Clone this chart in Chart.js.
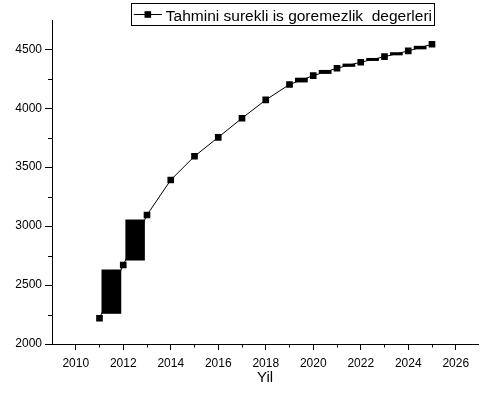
<!DOCTYPE html>
<html lang="tr">
<head>
  <meta charset="UTF-8" />
  <title>Tahmini surekli is goremezlik degerleri</title>
  <script src="https://cdn.jsdelivr.net/npm/chart.js@4.4.0/dist/chart.umd.min.js"></script>
  <style>
    html, body { margin: 0; padding: 0; background: #ffffff; }
    canvas { display: block; }
  </style>
</head>
<body>
  <canvas id="chart" width="483" height="400"></canvas>

  <script>
    // Data
    const years = [2011, 2012, 2013, 2014, 2015, 2016, 2017, 2018, 2019, 2020, 2021, 2022, 2023, 2024, 2025];
    const values = [2218, 2670, 3094, 3391, 3592, 3753, 3915, 4070, 4201, 4276, 4339, 4390, 4437, 4486, 4542];
    // segments (by start year) that the original plot drew as solid blocks
    const blockStartYears = [2011, 2012, 2019, 2020, 2021, 2022, 2023, 2024];
    const xTickValues = [2010, 2012, 2014, 2016, 2018, 2020, 2022, 2024, 2026];
    const yTickValues = [2000, 2500, 3000, 3500, 4000, 4500];
    const seriesLabel = 'Tahmini surekli is goremezlik  degerleri';
    const xTitle = 'Yil';

    const FONT = 'Arial, "Liberation Sans", sans-serif';
    Chart.defaults.font.family = FONT;
    Chart.defaults.color = '#000';

    // draws the segment blocks: bounding box of the segment outside the markers
    const blockPlugin = {
      id: 'blocks',
      afterDatasetsDraw(chart) {
        const ctx = chart.ctx;
        const pts = chart.getDatasetMeta(0).data;
        const hx = 5.5, hy = 4.5;
        ctx.save();
        ctx.fillStyle = '#000';
        blockStartYears.forEach(y0 => {
          const i = years.indexOf(y0);
          const a = pts[i], b = pts[i + 1];
          const dx = b.x - a.x, dy = b.y - a.y;
          const t = Math.min(hx / Math.abs(dx || 1e-9), hy / Math.abs(dy || 1e-9));
          const x0 = a.x + dx * t, y0p = a.y + dy * t;
          const x1 = a.x + dx * (1 - t), y1p = a.y + dy * (1 - t);
          ctx.fillRect(Math.min(x0, x1), Math.min(y0p, y1p), Math.abs(x1 - x0), Math.abs(y1p - y0p));
        });
        ctx.restore();
      }
    };

    // minor tick marks (odd years, half steps on y)
    const minorTicks = {
      id: 'minorTicks',
      afterDraw(chart) {
        const ctx = chart.ctx;
        const xs = chart.scales.x, ys = chart.scales.y;
        const area = chart.chartArea;
        ctx.save();
        ctx.strokeStyle = '#000';
        ctx.lineWidth = 1;
        ctx.beginPath();
        for (let k = 0; k < xTickValues.length - 1; k++) {
          const px = Math.round(xs.getPixelForValue((xTickValues[k] + xTickValues[k + 1]) / 2)) + 0.5;
          ctx.moveTo(px, area.bottom);
          ctx.lineTo(px, area.bottom + 3.5);
        }
        for (let k = 0; k < yTickValues.length - 1; k++) {
          const py = Math.round(ys.getPixelForValue((yTickValues[k] + yTickValues[k + 1]) / 2)) + 0.5;
          ctx.moveTo(area.left - 4, py);
          ctx.lineTo(area.left, py);
        }
        ctx.stroke();
        ctx.restore();
      }
    };

    // boxed legend at the top
    const boxLegend = {
      id: 'boxLegend',
      afterDraw(chart) {
        const ctx = chart.ctx;
        ctx.save();
        ctx.font = '15.5px ' + FONT;
        const tw = ctx.measureText(seriesLabel).width;
        const textRight = 432;
        const textLeft = textRight - tw;
        const symRight = textLeft - 4;
        const symLeft = symRight - 28;
        const boxLeft = symLeft - 3;
        const boxTop = 3, boxBottom = 25;
        ctx.strokeStyle = '#000';
        ctx.lineWidth = 1;
        ctx.strokeRect(Math.round(boxLeft) + 0.5, boxTop + 0.5, Math.round(434 - boxLeft), boxBottom - boxTop);
        const cy = 14.5;
        ctx.beginPath();
        ctx.moveTo(symLeft, cy);
        ctx.lineTo(symRight, cy);
        ctx.stroke();
        ctx.fillStyle = '#000';
        const cx = (symLeft + symRight) / 2;
        ctx.fillRect(cx - 3.3, cy - 3.3, 6.6, 6.6);
        ctx.textBaseline = 'alphabetic';
        ctx.textAlign = 'left';
        ctx.fillText(seriesLabel, textLeft, 20.5);
        ctx.restore();
      }
    };

    const ctxMain = document.getElementById('chart').getContext('2d');
    new Chart(ctxMain, {
      type: 'line',
      data: {
        datasets: [{
          label: seriesLabel,
          data: years.map((y, i) => ({ x: y, y: values[i] })),
          borderColor: '#000',
          borderWidth: 1,
          backgroundColor: '#000',
          pointStyle: 'rect',
          pointRadius: 4.7,
          pointBorderWidth: 0,
          pointBackgroundColor: '#000',
          tension: 0,
          fill: false
        }]
      },
      options: {
        responsive: false,
        animation: false,
        events: [],
        layout: { padding: { top: 20, right: 0, left: 0, bottom: 0 } },
        plugins: {
          legend: { display: false },
          tooltip: { enabled: false }
        },
        scales: {
          x: {
            type: 'linear',
            min: 2009,
            max: 2026.95,
            afterFit(scale) { scale.height = 56; },
            afterBuildTicks(scale) { scale.ticks = xTickValues.map(v => ({ value: v })); },
            border: { color: '#000', width: 1 },
            grid: { drawOnChartArea: false, drawTicks: true, tickLength: 6, color: '#000' },
            ticks: {
              padding: 6,
              maxRotation: 0,
              autoSkip: false,
              font: { size: 12 },
              color: '#000',
              callback: v => String(v)
            },
            title: {
              display: true,
              text: xTitle,
              font: { size: 15 },
              color: '#000',
              padding: { top: 0, bottom: 13 }
            }
          },
          y: {
            type: 'linear',
            min: 2000,
            max: 4748,
            afterFit(scale) { scale.width = 52; },
            afterBuildTicks(scale) { scale.ticks = yTickValues.map(v => ({ value: v })); },
            border: { color: '#000', width: 1 },
            grid: { drawOnChartArea: false, drawTicks: true, tickLength: 7, color: '#000' },
            ticks: {
              padding: 3,
              autoSkip: false,
              font: { size: 12 },
              color: '#000',
              callback: v => String(v)
            }
          }
        }
      },
      plugins: [blockPlugin, minorTicks, boxLegend]
    });
  </script>
</body>
</html>
